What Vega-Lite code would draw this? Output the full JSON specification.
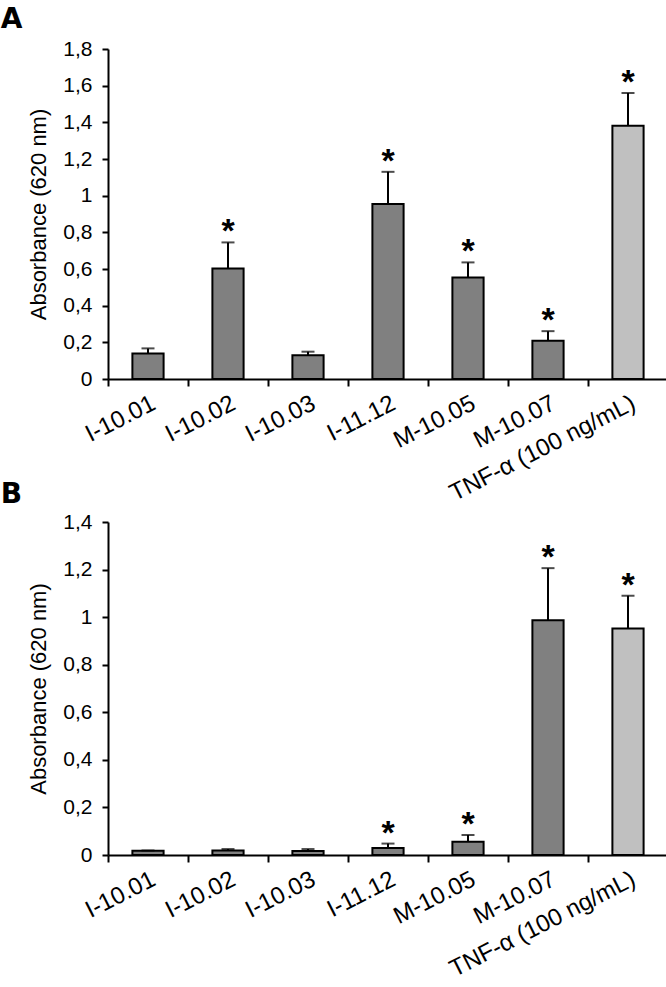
{
  "$schema": "https://vega.github.io/schema/vega-lite/v6.json",
  "padding": {"left": 0, "top": 6, "right": 1, "bottom": 0},
  "autosize": {"type": "pad"},
  "config": {
    "view": {"stroke": null},
    "font": "Liberation Sans",
    "axis": {"grid": false, "domainColor": "black", "domainWidth": 2, "tickColor": "black", "tickWidth": 2, "labelColor": "black", "titleColor": "black", "labelFont": "Liberation Sans", "titleFont": "Liberation Sans", "labelOverlap": false},
    "axisY": {"labelExpr": "replace(format(datum.value,'~g'),'.',',')", "labelFontSize": 21, "tickSize": 6, "labelPadding": 10, "titleFontSize": 22, "titleFontWeight": "normal", "titlePadding": 12},
    "axisX": {"title": null, "labelAngle": -27, "labelAlign": "right", "labelBaseline": "top", "labelFontSize": 24, "tickBand": "extent", "tickSize": 7, "labelPadding": 5, "labelLimit": 300},
    "title": {"font": "DejaVu Sans", "fontSize": 28, "fontWeight": "bold", "anchor": "start", "frame": "bounds", "color": "black"}
  },
  "datasets": {
    "a": [
      {"cat": "I-10.01", "val": 0.139, "hi": 0.167, "sig": false, "type": "sample"},
      {"cat": "I-10.02", "val": 0.603, "hi": 0.745, "sig": true, "type": "sample"},
      {"cat": "I-10.03", "val": 0.130, "hi": 0.149, "sig": false, "type": "sample"},
      {"cat": "I-11.12", "val": 0.955, "hi": 1.130, "sig": true, "type": "sample"},
      {"cat": "M-10.05", "val": 0.554, "hi": 0.636, "sig": true, "type": "sample"},
      {"cat": "M-10.07", "val": 0.208, "hi": 0.261, "sig": true, "type": "sample"},
      {"cat": "TNF-α (100 ng/mL)", "val": 1.382, "hi": 1.560, "sig": true, "type": "control"}
    ],
    "b": [
      {"cat": "I-10.01", "val": 0.018, "hi": 0.019, "sig": false, "type": "sample"},
      {"cat": "I-10.02", "val": 0.019, "hi": 0.025, "sig": false, "type": "sample"},
      {"cat": "I-10.03", "val": 0.017, "hi": 0.025, "sig": false, "type": "sample"},
      {"cat": "I-11.12", "val": 0.029, "hi": 0.048, "sig": true, "type": "sample"},
      {"cat": "M-10.05", "val": 0.056, "hi": 0.084, "sig": true, "type": "sample"},
      {"cat": "M-10.07", "val": 0.987, "hi": 1.206, "sig": true, "type": "sample"},
      {"cat": "TNF-α (100 ng/mL)", "val": 0.952, "hi": 1.090, "sig": true, "type": "control"}
    ]
  },
  "vconcat": [
    {
      "title": {"text": "A", "dx": -27, "offset": 4},
      "width": 560,
      "height": 330,
      "data": {"name": "a"},
      "encoding": {
        "x": {"field": "cat", "type": "nominal", "sort": null, "scale": {"paddingInner": 0, "paddingOuter": 0}}
      },
      "layer": [
        {"mark": {"type": "bar", "stroke": "black", "strokeWidth": 2, "width": {"band": 0.39}},
          "encoding": {
            "y": {"field": "val", "type": "quantitative", "scale": {"domain": [0, 1.8]}, "title": "Absorbance (620 nm)",
              "axis": {"values": [0, 0.2, 0.4, 0.6, 0.8, 1, 1.2, 1.4, 1.6, 1.8]}},
            "fill": {"field": "type", "type": "nominal", "scale": {"domain": ["sample", "control"], "range": ["#808080", "#c0c0c0"]}, "legend": null}
          }},
        {"mark": {"type": "rule", "color": "black", "strokeWidth": 2},
          "encoding": {"y": {"field": "val", "type": "quantitative", "title": "Absorbance (620 nm)", "axis": {"values": [0, 0.2, 0.4, 0.6, 0.8, 1, 1.2, 1.4, 1.6, 1.8]}}, "y2": {"field": "hi"}}},
        {"mark": {"type": "tick", "orient": "horizontal", "color": "black", "thickness": 2, "size": 13},
          "encoding": {"y": {"field": "hi", "type": "quantitative", "title": "Absorbance (620 nm)", "axis": {"values": [0, 0.2, 0.4, 0.6, 0.8, 1, 1.2, 1.4, 1.6, 1.8]}}}},
        {"transform": [{"filter": "datum.sig"}],
          "mark": {"type": "text", "text": "*", "fontSize": 34, "fontWeight": "bold", "baseline": "alphabetic", "dy": 0, "color": "black"},
          "encoding": {"y": {"field": "hi", "type": "quantitative", "title": "Absorbance (620 nm)", "axis": {"values": [0, 0.2, 0.4, 0.6, 0.8, 1, 1.2, 1.4, 1.6, 1.8]}}}}
      ]
    },
    {
      "title": {"text": "B", "dx": -27, "offset": 2},
      "width": 560,
      "height": 333,
      "data": {"name": "b"},
      "encoding": {
        "x": {"field": "cat", "type": "nominal", "sort": null, "scale": {"paddingInner": 0, "paddingOuter": 0}}
      },
      "layer": [
        {"mark": {"type": "bar", "stroke": "black", "strokeWidth": 2, "width": {"band": 0.39}},
          "encoding": {
            "y": {"field": "val", "type": "quantitative", "scale": {"domain": [0, 1.4]}, "title": "Absorbance (620 nm)",
              "axis": {"values": [0, 0.2, 0.4, 0.6, 0.8, 1, 1.2, 1.4]}},
            "fill": {"field": "type", "type": "nominal", "scale": {"domain": ["sample", "control"], "range": ["#808080", "#c0c0c0"]}, "legend": null}
          }},
        {"mark": {"type": "rule", "color": "black", "strokeWidth": 2},
          "encoding": {"y": {"field": "val", "type": "quantitative", "title": "Absorbance (620 nm)", "axis": {"values": [0, 0.2, 0.4, 0.6, 0.8, 1, 1.2, 1.4]}}, "y2": {"field": "hi"}}},
        {"mark": {"type": "tick", "orient": "horizontal", "color": "black", "thickness": 2, "size": 13},
          "encoding": {"y": {"field": "hi", "type": "quantitative", "title": "Absorbance (620 nm)", "axis": {"values": [0, 0.2, 0.4, 0.6, 0.8, 1, 1.2, 1.4]}}}},
        {"transform": [{"filter": "datum.sig"}],
          "mark": {"type": "text", "text": "*", "fontSize": 34, "fontWeight": "bold", "baseline": "alphabetic", "dy": 0, "color": "black"},
          "encoding": {"y": {"field": "hi", "type": "quantitative", "title": "Absorbance (620 nm)", "axis": {"values": [0, 0.2, 0.4, 0.6, 0.8, 1, 1.2, 1.4]}}}}
      ]
    }
  ],
  "spacing": -25,
  "resolve": {"scale": {"fill": "shared"}}
}
